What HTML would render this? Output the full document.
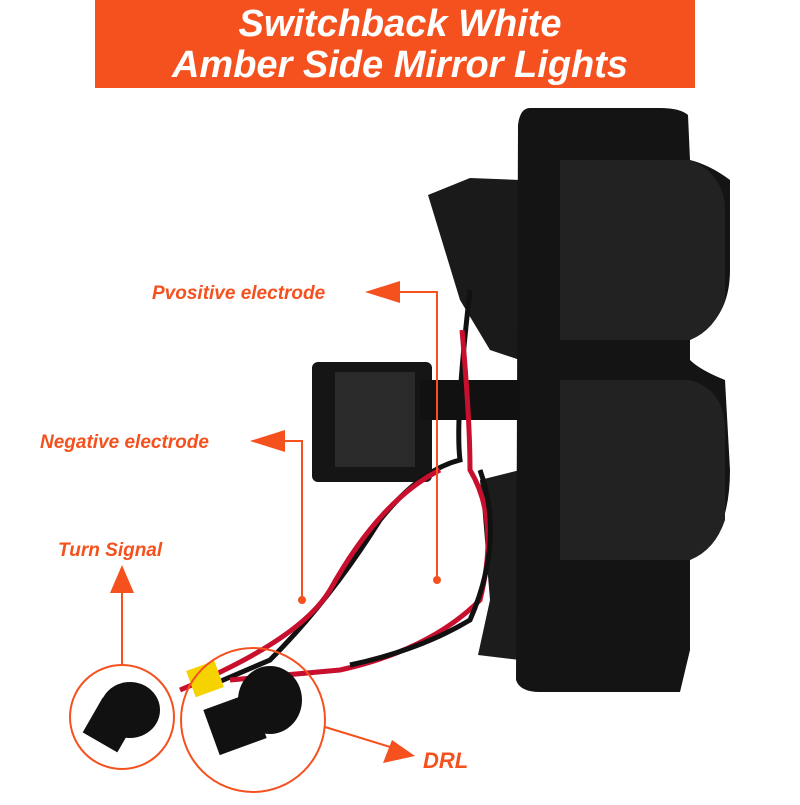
<!DOCTYPE html>
<html><head><style>
body{margin:0;width:800px;height:800px;background:#fff;overflow:hidden;font-family:"Liberation Sans",sans-serif}
</style></head><body>
<svg width="800" height="800" viewBox="0 0 800 800" xmlns="http://www.w3.org/2000/svg">
<rect x="95" y="0" width="600" height="88" fill="#f4511e"/>
<text x="400" y="36" text-anchor="middle" fill="#fff" font-size="38" font-weight="bold" font-style="italic" font-family="Liberation Sans">Switchback White</text>
<text x="400" y="77" text-anchor="middle" fill="#fff" font-size="38" font-weight="bold" font-style="italic" font-family="Liberation Sans">Amber Side Mirror Lights</text>
<!-- housing back -->
<path d="M428 195 L470 178 L520 180 L520 360 L490 350 L460 300 Z" fill="#1a1a1a"/>
<path d="M480 480 L520 470 L520 660 L478 655 L490 600 Z" fill="#1c1c1c"/>
<!-- main lens -->
<path d="M530 108 Q520 108 518 125 L516 680 Q520 692 540 692 L680 692 L690 650 L690 560 Q730 540 730 470 L725 380 Q700 370 690 360 L690 340 Q730 320 730 270 L730 180 Q710 165 690 160 L688 115 Q680 108 660 108 Z" fill="#141414"/>
<path d="M560 160 L690 160 Q725 175 725 210 L725 300 Q715 330 690 340 L560 340 Z" fill="#222"/>
<path d="M560 380 L690 380 Q725 390 725 430 L725 520 Q715 550 690 560 L560 560 Z" fill="#222"/>
<!-- bracket -->
<rect x="312" y="362" width="120" height="120" rx="6" fill="#151515"/>
<rect x="335" y="372" width="80" height="95" fill="#2a2a2a"/>
<rect x="420" y="380" width="100" height="40" fill="#111"/>
<!-- wires -->
<path d="M470 290 Q455 420 460 460 Q420 470 380 520 Q330 600 270 660 L200 690" stroke="#111" stroke-width="5" fill="none"/>
<path d="M462 330 Q470 420 470 470 Q500 520 480 600 Q430 650 340 670 L230 680" stroke="#c8102e" stroke-width="5" fill="none"/>
<path d="M480 470 Q505 540 470 620 Q420 650 350 665" stroke="#111" stroke-width="5" fill="none"/>
<path d="M440 470 Q380 500 330 590 Q300 640 180 690" stroke="#c8102e" stroke-width="5" fill="none"/>
<!-- connectors -->
<rect x="190" y="665" width="30" height="28" fill="#f6d200" transform="rotate(-20 205 679)"/>
<g fill="#111">
<ellipse cx="130" cy="710" rx="30" ry="28"/>
<rect x="90" y="705" width="40" height="40" transform="rotate(30 110 725)"/>
<ellipse cx="270" cy="700" rx="32" ry="34"/>
<rect x="210" y="700" width="50" height="48" transform="rotate(-20 235 724)"/>
</g>
<!-- callouts -->
<g stroke="#f4511e" stroke-width="2" fill="none">
<circle cx="122" cy="717" r="52"/>
<circle cx="253" cy="720" r="72"/>
<polyline points="385,292 437,292 437,580"/>
<polyline points="270,441 302,441 302,600"/>
<line x1="122" y1="580" x2="122" y2="665"/>
<line x1="325" y1="727" x2="400" y2="750"/>
</g>
<g fill="#f4511e">
<polygon points="365,292 400,281 400,303"/>
<polygon points="250,441 285,430 285,452"/>
<polygon points="122,565 110,593 134,593"/>
<polygon points="415,756 383,763 392,740"/>
<circle cx="437" cy="580" r="4"/><circle cx="302" cy="600" r="4"/>
</g>
<g fill="#f4511e" font-weight="bold" font-style="italic" font-size="19" font-family="Liberation Sans">
<text x="152" y="299">Pvositive electrode</text>
<text x="40" y="448">Negative electrode</text>
<text x="58" y="556">Turn Signal</text>
<text x="423" y="768" font-size="22">DRL</text>
</g>
</svg>
</body></html>
